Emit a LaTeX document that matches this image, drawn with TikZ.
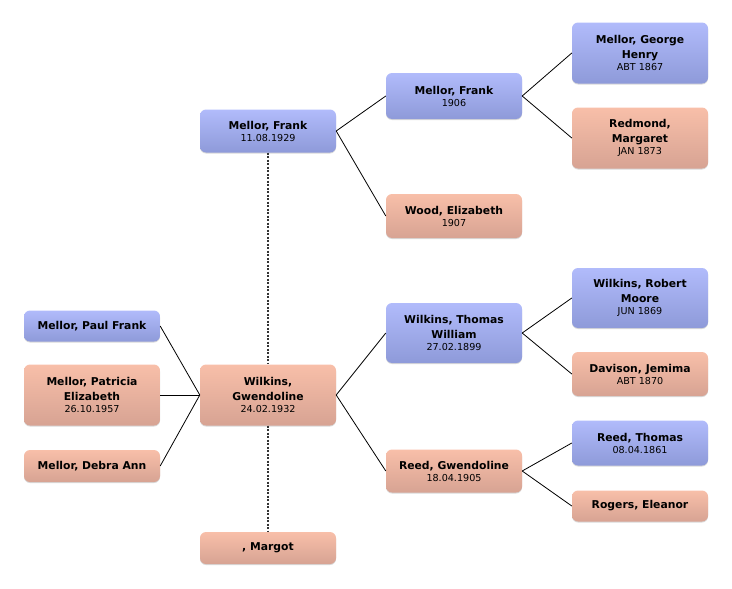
\documentclass[tikz,border=0pt]{standalone}
\usepackage{fontspec}
\setmainfont{DejaVu Sans}
\usetikzlibrary{shadows}
\definecolor{bluetop}{HTML}{B1BBFB}
\definecolor{bluebot}{HTML}{8E9AD9}
\definecolor{pinktop}{HTML}{F8BFA9}
\definecolor{pinkbot}{HTML}{D7A393}
\newcommand{\nm}[1]{{\fontsize{10.8}{15}\selectfont\bfseries #1}}
\newcommand{\dt}[1]{{\fontsize{9.6}{12}\selectfont #1}}
\tikzset{
  person/.style={rounded corners=6pt, minimum width=136pt, align=center,
    inner sep=1pt, font=\fontsize{10.8}{15}\selectfont,
    drop shadow={shadow xshift=0pt, shadow yshift=-1pt, opacity=0.25, fill=black!60}},
  male/.style={person, top color=bluetop, bottom color=bluebot},
  female/.style={person, top color=pinktop, bottom color=pinkbot},
  link/.style={draw=black, line width=0.8pt},
  spouse/.style={draw=black!80, line width=1.3pt, dash pattern=on 2pt off 1.5pt}
}
\begin{document}
\begin{tikzpicture}[x=1pt,y=-1pt]
\useasboundingbox (0,0) rectangle (732,589);
% nodes
\node[male, minimum height=43pt] (frank) at (268,131) {\nm{Mellor, Frank}\\[-3pt]\dt{11.08.1929}};
\node[male, minimum height=46pt] (frank06) at (454,96) {\nm{Mellor, Frank}\\[-3pt]\dt{1906}};
\node[male, minimum height=61pt] (george) at (640,53) {\nm{Mellor, George}\\\nm{Henry}\\[-3pt]\dt{ABT 1867}};
\node[female, minimum height=61pt] (redmond) at (640,138) {\nm{Redmond,}\\\nm{Margaret}\\[-3pt]\dt{JAN 1873}};
\node[female, minimum height=44pt] (wood) at (454,216) {\nm{Wood, Elizabeth}\\[-3pt]\dt{1907}};
\node[male, minimum height=31pt] (paul) at (92,326) {\nm{Mellor, Paul Frank}};
\node[female, minimum height=61pt] (patricia) at (92,395) {\nm{Mellor, Patricia}\\\nm{Elizabeth}\\[-3pt]\dt{26.10.1957}};
\node[female, minimum height=32pt] (debra) at (92,466) {\nm{Mellor, Debra Ann}};
\node[female, minimum height=61pt] (gwen) at (268,395) {\nm{Wilkins,}\\\nm{Gwendoline}\\[-3pt]\dt{24.02.1932}};
\node[male, minimum height=60pt] (thomasw) at (454,333) {\nm{Wilkins, Thomas}\\\nm{William}\\[-3pt]\dt{27.02.1899}};
\node[female, minimum height=43pt] (reedg) at (454,471) {\nm{Reed, Gwendoline}\\[-3pt]\dt{18.04.1905}};
\node[male, minimum height=60pt] (robert) at (640,298) {\nm{Wilkins, Robert}\\\nm{Moore}\\[-3pt]\dt{JUN 1869}};
\node[female, minimum height=44pt] (davison) at (640,374) {\nm{Davison, Jemima}\\[-3pt]\dt{ABT 1870}};
\node[male, minimum height=45pt] (reedt) at (640,443) {\nm{Reed, Thomas}\\[-3pt]\dt{08.04.1861}};
\node[female, minimum height=31pt] (rogers) at (640,506) {\nm{Rogers, Eleanor}};
\node[female, minimum height=32pt] (margot) at (268,548) {\nm{, Margot}};
% connectors
\draw[spouse] (frank.south) -- (gwen.north);
\draw[spouse] (gwen.south) -- (margot.north);
\draw[link] (frank.east) -- (frank06.west);
\draw[link] (frank.east) -- (wood.west);
\draw[link] (frank06.east) -- (george.west);
\draw[link] (frank06.east) -- (redmond.west);
\draw[link] (paul.east) -- (gwen.west);
\draw[link] (patricia.east) -- (gwen.west);
\draw[link] (debra.east) -- (gwen.west);
\draw[link] (gwen.east) -- (thomasw.west);
\draw[link] (gwen.east) -- (reedg.west);
\draw[link] (thomasw.east) -- (robert.west);
\draw[link] (thomasw.east) -- (davison.west);
\draw[link] (reedg.east) -- (reedt.west);
\draw[link] (reedg.east) -- (rogers.west);
\end{tikzpicture}
\end{document}
